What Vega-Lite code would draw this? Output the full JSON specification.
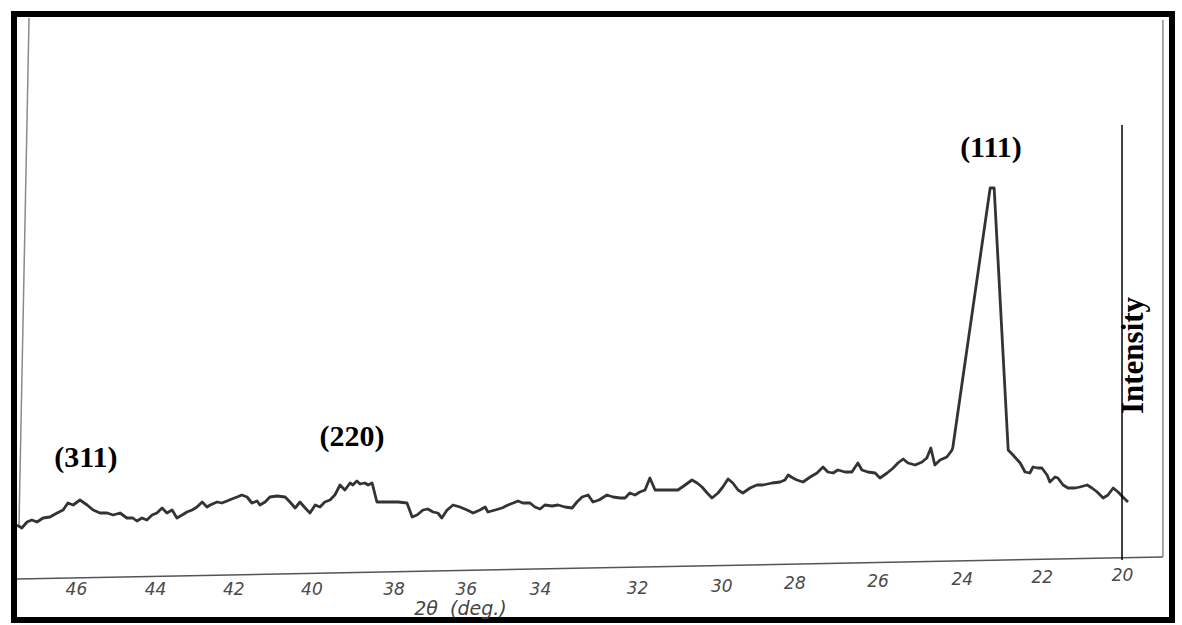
{
  "$schema": "https://vega.github.io/schema/vega-lite/v6.json",
  "width": 1158,
  "height": 606,
  "autosize": {"type": "none"},
  "padding": {"left": 14, "top": 14, "right": 10, "bottom": 5},
  "background": "white",
  "config": {"view": {"stroke": "#000000", "strokeWidth": 6}},
  "datasets": {
    "trace": [
      {"two_theta": 47.57, "intensity": 53}, {"two_theta": 47.45, "intensity": 50}, {"two_theta": 47.32, "intensity": 56},
      {"two_theta": 47.2, "intensity": 58}, {"two_theta": 47.07, "intensity": 56}, {"two_theta": 46.92, "intensity": 60},
      {"two_theta": 46.75, "intensity": 61}, {"two_theta": 46.57, "intensity": 65}, {"two_theta": 46.42, "intensity": 68},
      {"two_theta": 46.3, "intensity": 75}, {"two_theta": 46.17, "intensity": 73}, {"two_theta": 46.0, "intensity": 78},
      {"two_theta": 45.82, "intensity": 73}, {"two_theta": 45.67, "intensity": 68}, {"two_theta": 45.5, "intensity": 65},
      {"two_theta": 45.32, "intensity": 65}, {"two_theta": 45.17, "intensity": 63}, {"two_theta": 45.0, "intensity": 65},
      {"two_theta": 44.83, "intensity": 60}, {"two_theta": 44.68, "intensity": 60}, {"two_theta": 44.58, "intensity": 57},
      {"two_theta": 44.45, "intensity": 60}, {"two_theta": 44.33, "intensity": 58}, {"two_theta": 44.2, "intensity": 63},
      {"two_theta": 44.08, "intensity": 65}, {"two_theta": 43.95, "intensity": 70}, {"two_theta": 43.83, "intensity": 65},
      {"two_theta": 43.7, "intensity": 68}, {"two_theta": 43.58, "intensity": 60}, {"two_theta": 43.45, "intensity": 63},
      {"two_theta": 43.33, "intensity": 66}, {"two_theta": 43.2, "intensity": 68}, {"two_theta": 43.08, "intensity": 71},
      {"two_theta": 42.95, "intensity": 76}, {"two_theta": 42.83, "intensity": 71}, {"two_theta": 42.75, "intensity": 73},
      {"two_theta": 42.58, "intensity": 76}, {"two_theta": 42.46, "intensity": 75}, {"two_theta": 42.33, "intensity": 77},
      {"two_theta": 42.21, "intensity": 79}, {"two_theta": 42.08, "intensity": 81}, {"two_theta": 41.96, "intensity": 83},
      {"two_theta": 41.83, "intensity": 81}, {"two_theta": 41.71, "intensity": 75}, {"two_theta": 41.58, "intensity": 77},
      {"two_theta": 41.51, "intensity": 73}, {"two_theta": 41.38, "intensity": 76}, {"two_theta": 41.26, "intensity": 81},
      {"two_theta": 41.08, "intensity": 82}, {"two_theta": 40.88, "intensity": 81}, {"two_theta": 40.76, "intensity": 76},
      {"two_theta": 40.63, "intensity": 70}, {"two_theta": 40.51, "intensity": 76}, {"two_theta": 40.38, "intensity": 70},
      {"two_theta": 40.26, "intensity": 65}, {"two_theta": 40.13, "intensity": 73}, {"two_theta": 40.01, "intensity": 71},
      {"two_theta": 39.89, "intensity": 76}, {"two_theta": 39.76, "intensity": 78}, {"two_theta": 39.64, "intensity": 83},
      {"two_theta": 39.51, "intensity": 93}, {"two_theta": 39.39, "intensity": 88}, {"two_theta": 39.26, "intensity": 95},
      {"two_theta": 39.19, "intensity": 93}, {"two_theta": 39.09, "intensity": 97}, {"two_theta": 39.01, "intensity": 94},
      {"two_theta": 38.89, "intensity": 95}, {"two_theta": 38.81, "intensity": 93}, {"two_theta": 38.71, "intensity": 95},
      {"two_theta": 38.59, "intensity": 76}, {"two_theta": 38.34, "intensity": 76}, {"two_theta": 38.06, "intensity": 76},
      {"two_theta": 37.84, "intensity": 75}, {"two_theta": 37.71, "intensity": 61}, {"two_theta": 37.59, "intensity": 63},
      {"two_theta": 37.44, "intensity": 68}, {"two_theta": 37.32, "intensity": 69}, {"two_theta": 37.19, "intensity": 66},
      {"two_theta": 37.07, "intensity": 65}, {"two_theta": 36.97, "intensity": 60}, {"two_theta": 36.84, "intensity": 68},
      {"two_theta": 36.69, "intensity": 73}, {"two_theta": 36.52, "intensity": 71}, {"two_theta": 36.34, "intensity": 68},
      {"two_theta": 36.19, "intensity": 65}, {"two_theta": 36.02, "intensity": 68}, {"two_theta": 35.89, "intensity": 71},
      {"two_theta": 35.82, "intensity": 66}, {"two_theta": 35.64, "intensity": 68}, {"two_theta": 35.47, "intensity": 70},
      {"two_theta": 35.32, "intensity": 73}, {"two_theta": 35.19, "intensity": 75}, {"two_theta": 35.07, "intensity": 77},
      {"two_theta": 34.95, "intensity": 75}, {"two_theta": 34.77, "intensity": 75}, {"two_theta": 34.65, "intensity": 71},
      {"two_theta": 34.52, "intensity": 69}, {"two_theta": 34.4, "intensity": 73}, {"two_theta": 34.22, "intensity": 72},
      {"two_theta": 34.07, "intensity": 73}, {"two_theta": 33.9, "intensity": 71}, {"two_theta": 33.72, "intensity": 70},
      {"two_theta": 33.6, "intensity": 76}, {"two_theta": 33.47, "intensity": 81}, {"two_theta": 33.32, "intensity": 83},
      {"two_theta": 33.2, "intensity": 76}, {"two_theta": 33.05, "intensity": 78}, {"two_theta": 32.85, "intensity": 83},
      {"two_theta": 32.7, "intensity": 81}, {"two_theta": 32.52, "intensity": 80}, {"two_theta": 32.4, "intensity": 80},
      {"two_theta": 32.28, "intensity": 85}, {"two_theta": 32.15, "intensity": 83}, {"two_theta": 32.03, "intensity": 86},
      {"two_theta": 31.9, "intensity": 88}, {"two_theta": 31.78, "intensity": 100}, {"two_theta": 31.65, "intensity": 88},
      {"two_theta": 31.48, "intensity": 88}, {"two_theta": 31.28, "intensity": 88}, {"two_theta": 31.08, "intensity": 88},
      {"two_theta": 30.9, "intensity": 93}, {"two_theta": 30.73, "intensity": 98}, {"two_theta": 30.6, "intensity": 95},
      {"two_theta": 30.48, "intensity": 91}, {"two_theta": 30.35, "intensity": 85}, {"two_theta": 30.23, "intensity": 80},
      {"two_theta": 30.08, "intensity": 85}, {"two_theta": 29.96, "intensity": 91}, {"two_theta": 29.83, "intensity": 99},
      {"two_theta": 29.71, "intensity": 95}, {"two_theta": 29.58, "intensity": 88}, {"two_theta": 29.46, "intensity": 85},
      {"two_theta": 29.28, "intensity": 90}, {"two_theta": 29.11, "intensity": 93}, {"two_theta": 28.96, "intensity": 93},
      {"two_theta": 28.73, "intensity": 95}, {"two_theta": 28.53, "intensity": 96}, {"two_theta": 28.41, "intensity": 98},
      {"two_theta": 28.33, "intensity": 103}, {"two_theta": 28.21, "intensity": 100}, {"two_theta": 28.11, "intensity": 98},
      {"two_theta": 27.96, "intensity": 96}, {"two_theta": 27.78, "intensity": 101}, {"two_theta": 27.61, "intensity": 105},
      {"two_theta": 27.46, "intensity": 111}, {"two_theta": 27.34, "intensity": 106}, {"two_theta": 27.21, "intensity": 105},
      {"two_theta": 27.09, "intensity": 108}, {"two_theta": 26.91, "intensity": 106}, {"two_theta": 26.74, "intensity": 106},
      {"two_theta": 26.59, "intensity": 115}, {"two_theta": 26.49, "intensity": 108}, {"two_theta": 26.34, "intensity": 106},
      {"two_theta": 26.16, "intensity": 105}, {"two_theta": 26.04, "intensity": 100}, {"two_theta": 25.86, "intensity": 105},
      {"two_theta": 25.71, "intensity": 110}, {"two_theta": 25.59, "intensity": 115}, {"two_theta": 25.46, "intensity": 119},
      {"two_theta": 25.34, "intensity": 115}, {"two_theta": 25.16, "intensity": 113}, {"two_theta": 24.99, "intensity": 116},
      {"two_theta": 24.87, "intensity": 120}, {"two_theta": 24.77, "intensity": 130}, {"two_theta": 24.67, "intensity": 113},
      {"two_theta": 24.54, "intensity": 118}, {"two_theta": 24.37, "intensity": 121}, {"two_theta": 24.24, "intensity": 128},
      {"two_theta": 24.22, "intensity": 131}, {"two_theta": 23.29, "intensity": 390}, {"two_theta": 23.19, "intensity": 390},
      {"two_theta": 22.84, "intensity": 128}, {"two_theta": 22.72, "intensity": 123}, {"two_theta": 22.54, "intensity": 115},
      {"two_theta": 22.42, "intensity": 106}, {"two_theta": 22.3, "intensity": 105}, {"two_theta": 22.22, "intensity": 111},
      {"two_theta": 22.1, "intensity": 110}, {"two_theta": 22.0, "intensity": 110}, {"two_theta": 21.87, "intensity": 103},
      {"two_theta": 21.8, "intensity": 96}, {"two_theta": 21.67, "intensity": 101}, {"two_theta": 21.6, "intensity": 100},
      {"two_theta": 21.47, "intensity": 93}, {"two_theta": 21.35, "intensity": 90}, {"two_theta": 21.17, "intensity": 90},
      {"two_theta": 21.05, "intensity": 91}, {"two_theta": 20.87, "intensity": 93}, {"two_theta": 20.75, "intensity": 90},
      {"two_theta": 20.62, "intensity": 86}, {"two_theta": 20.47, "intensity": 80}, {"two_theta": 20.35, "intensity": 83},
      {"two_theta": 20.22, "intensity": 90}, {"two_theta": 20.1, "intensity": 86}, {"two_theta": 19.98, "intensity": 81},
      {"two_theta": 19.85, "intensity": 76}
    ],
    "peaks": [
      {"label": "(311)", "two_theta": 45.85, "intensity": 111},
      {"label": "(220)", "two_theta": 39.21, "intensity": 132},
      {"label": "(111)", "two_theta": 23.27, "intensity": 421}
    ]
  },
  "layer": [
    {
      "data": {"name": "trace"},
      "mark": {"type": "line", "color": "#333333", "strokeWidth": 2.8, "strokeJoin": "round"},
      "encoding": {
        "x": {
          "field": "two_theta",
          "type": "quantitative",
          "scale": {"domain": [18.753, 47.645], "reverse": true, "nice": false, "zero": false},
          "axis": {
            "orient": "bottom",
            "offset": -60,
            "values": [48, 46, 44, 42, 40, 38, 36, 34, 32, 30, 28, 26, 24, 22, 20],
            "domain": false,
            "ticks": false,
            "tickSize": 0,
            "grid": false,
            "labelFlush": false,
            "labelOverlap": false,
            "labelBound": false,
            "labelFont": "DejaVu Sans",
            "labelFontStyle": "italic",
            "labelFontSize": 17,
            "labelColor": "#4a4a4a",
            "labelBaseline": "middle",
            "labelPadding": {"expr": "min(29, 15 + (datum.value - 20) * 1.1)"},
            "labelOffset": {"expr": "datum.value == 46 ? -4 : datum.value == 44 ? -5 : datum.value == 42 ? -7 : datum.value == 40 ? -9 : datum.value == 38 ? -7 : datum.value == 36 ? -15 : datum.value == 34 ? -21 : datum.value == 32 ? -4 : datum.value == 28 ? -7 : datum.value == 26 ? -4 : 0"},
            "title": "2θ\u00a0\u00a0(deg.)",
            "titleFont": "DejaVu Sans",
            "titleFontStyle": "italic",
            "titleFontWeight": "normal",
            "titleFontSize": 19,
            "titleColor": "#444444",
            "titleAlign": "center",
            "titleBaseline": "middle",
            "titleAngle": 0,
            "titleX": 446,
            "titleY": 48
          }
        },
        "y": {
          "field": "intensity",
          "type": "quantitative",
          "scale": {"domain": [-42, 564], "nice": false, "zero": false},
          "axis": {
            "orient": "right",
            "offset": -50,
            "domain": false,
            "ticks": false,
            "labels": false,
            "grid": false,
            "title": "Intensity",
            "titleFont": "Liberation Serif",
            "titleFontWeight": "bold",
            "titleFontSize": 31,
            "titleColor": "#000000",
            "titleAngle": 270,
            "titleAlign": "center",
            "titleBaseline": "middle",
            "titleX": 11,
            "titleY": 341
          }
        }
      }
    },
    {
      "data": {"values": [{}]},
      "mark": {"type": "rule", "color": "#555555", "strokeWidth": 1.5},
      "encoding": {
        "x": {"datum": 47.57, "type": "quantitative"},
        "x2": {"datum": 18.98},
        "y": {"datum": -1, "type": "quantitative"},
        "y2": {"datum": 21}
      }
    },
    {
      "data": {"values": [{}]},
      "mark": {"type": "rule", "color": "#8a8a8a", "strokeWidth": 1.5},
      "encoding": {
        "x": {"datum": 47.27, "type": "quantitative"},
        "x2": {"datum": 47.52},
        "y": {"datum": 560, "type": "quantitative"},
        "y2": {"datum": 53}
      }
    },
    {
      "data": {"values": [{}]},
      "mark": {"type": "rule", "color": "#8a8a8a", "strokeWidth": 1.5},
      "encoding": {
        "x": {"datum": 18.98, "type": "quantitative"},
        "y": {"datum": 558, "type": "quantitative"},
        "y2": {"datum": 21}
      }
    },
    {
      "data": {"values": [{}]},
      "mark": {"type": "rule", "color": "#000000", "strokeWidth": 1.5},
      "encoding": {
        "x": {"datum": 20, "type": "quantitative"},
        "y": {"datum": 453, "type": "quantitative"},
        "y2": {"datum": 18}
      }
    },
    {
      "data": {"name": "peaks"},
      "mark": {"type": "text", "font": "Liberation Serif", "fontWeight": "bold", "fontSize": 30, "color": "#000000", "align": "center", "baseline": "alphabetic"},
      "encoding": {
        "x": {"field": "two_theta", "type": "quantitative"},
        "y": {"field": "intensity", "type": "quantitative"},
        "text": {"field": "label"}
      }
    }
  ]
}
